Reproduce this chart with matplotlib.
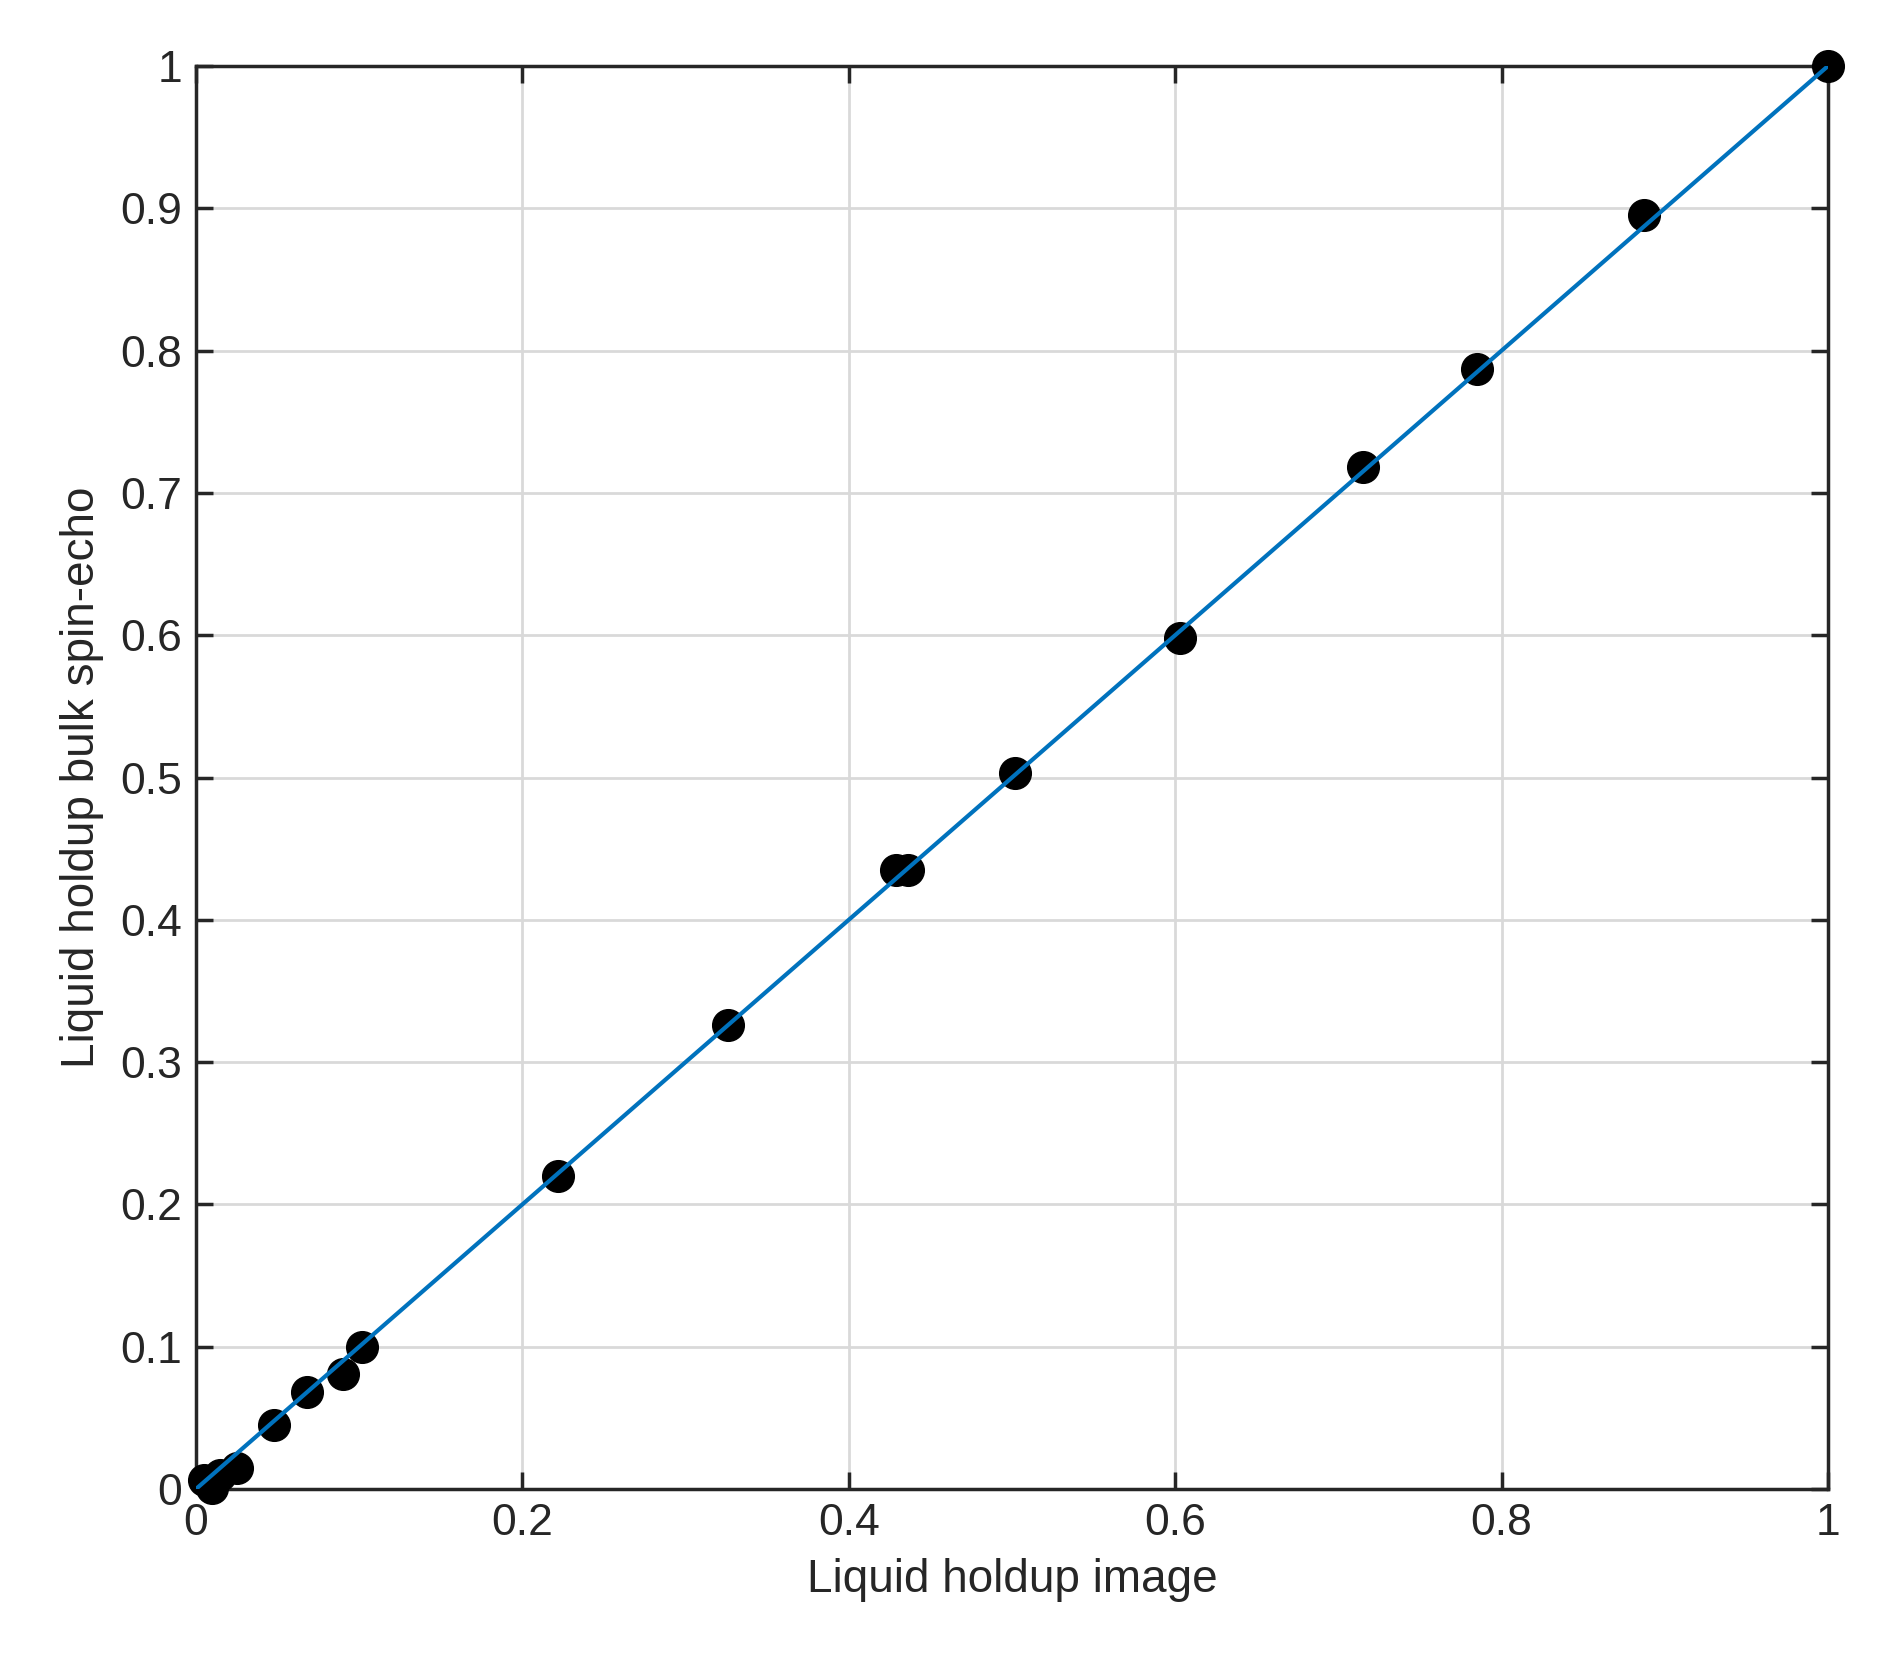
import matplotlib
matplotlib.use('Agg')
import matplotlib.pyplot as plt
import numpy as np

# holdup values
holdup_image = [0.005, 0.010, 0.015, 0.025, 0.048, 0.068, 0.090, 0.102,
                0.222, 0.326, 0.429, 0.436, 0.502, 0.603, 0.715, 0.785, 0.887, 1.0]
holdup_spin_echo = [0.006, 0.001, 0.010, 0.015, 0.045, 0.068, 0.081, 0.100,
                    0.220, 0.326, 0.435, 0.435, 0.503, 0.598, 0.718, 0.787, 0.895, 1.0]
fit_x = [0, 1]
fit_y = [0, 1]

plt.rcParams['font.family'] = ['Liberation Sans', 'DejaVu Sans']

fig = plt.figure(figsize=(18.79, 16.70), dpi=100)
ax = fig.add_axes([196 / 1879, 1 - 1489 / 1670, (1828 - 196) / 1879, (1489 - 66) / 1670])

ax.scatter(holdup_image, holdup_spin_echo, s=520, color='black', zorder=3, clip_on=False)
ax.plot(fit_x, fit_y, color='#0072BD', lw=3, zorder=4)

ax.set_xlim(0, 1)
ax.set_ylim(0, 1)
ax.set_xticks(np.arange(0, 1.01, 0.2))
ax.set_yticks(np.arange(0, 1.01, 0.1))
ax.set_xticklabels(['0', '0.2', '0.4', '0.6', '0.8', '1'])
ax.set_yticklabels(['0'] + [f'{v:.1f}' for v in np.arange(0.1, 0.95, 0.1)] + ['1'])
ax.grid(True, color='#d9d9d9', lw=2)
ax.set_axisbelow(True)
ax.tick_params(direction='in', length=12, width=2.5, labelsize=32, colors='#262626',
               top=True, right=True, pad=10)
for s in ax.spines.values():
    s.set_linewidth(2.5)
    s.set_color('#262626')

ax.set_xlabel('Liquid holdup image', fontsize=33, color='#262626', labelpad=10)
ax.set_ylabel('Liquid holdup bulk spin-echo', fontsize=33, color='#262626', labelpad=12)

fig.savefig('out.png', dpi=100)
